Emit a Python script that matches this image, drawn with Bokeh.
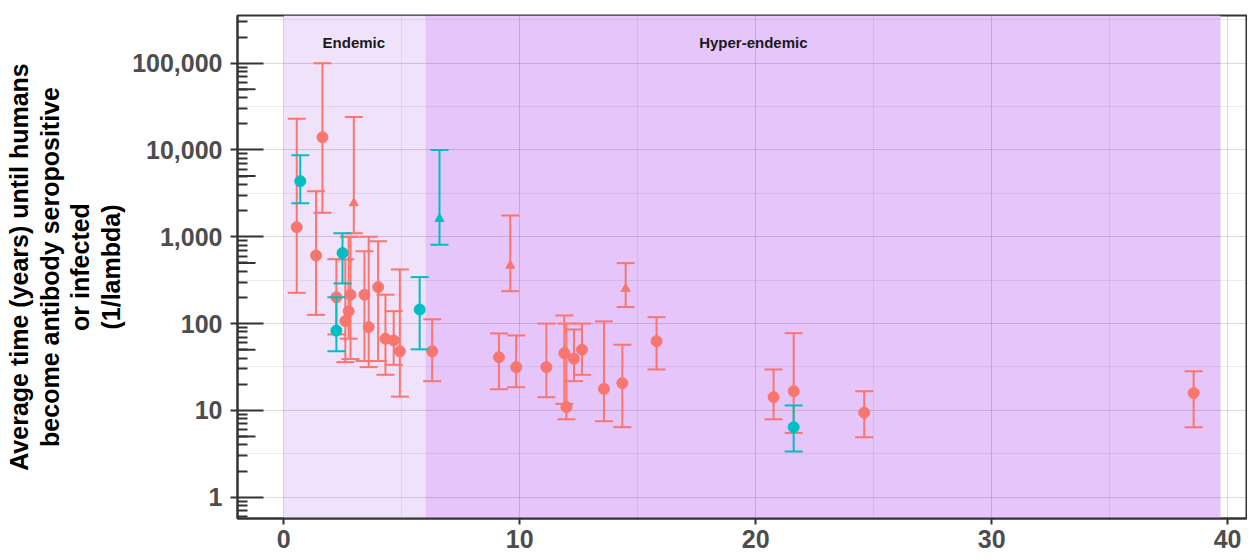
import math
from bokeh.plotting import figure
from bokeh.models import Range1d, FixedTicker, NumeralTickFormatter, ColumnDataSource
from bokeh.core.properties import value
from bokeh.embed import file_html
from bokeh.resources import INLINE

# ---------------- data ----------------
# group A (salmon) circles
a_circ_x  = [0.55, 1.37, 1.64, 2.23, 2.61, 2.75, 2.83, 3.42, 3.60, 4.00, 4.31, 4.66, 4.92,
             6.29, 9.12, 9.85, 11.13, 11.89, 11.98, 12.30, 12.64, 13.57, 14.35, 15.80,
             20.76, 21.61, 24.60, 38.56]
a_circ_y  = [1290, 609, 14000, 201, 107, 139, 215, 215, 91, 263, 67, 64, 48,
             48, 41, 31.5, 31.5, 45.6, 10.9, 39.3, 50, 17.7, 20.6, 62.7,
             14.2, 16.6, 9.4, 15.8]
a_circ_lo = [226, 126, 1890, 75, 36, 67, 39, 37, 31.5, 37, 25.7, 33.5, 14.4,
             21.7, 17.5, 18.5, 14.2, 11.9, 7.9, 21.7, 25.7, 7.5, 6.4, 29.6,
             7.9, 5.5, 4.9, 6.4]
a_circ_hi = [22900, 3350, 100000, 552, 550, 1000, 1000, 682, 1000, 889, 215, 139, 420,
             112, 77, 73, 100, 124, 100, 85.5, 100, 106, 57, 118.6,
             29.6, 77.5, 16.6, 28.3]
# group A (salmon) triangles
a_tri_x  = [2.97, 9.60, 14.49]
a_tri_y  = [2440, 466, 252]
a_tri_lo = [1100, 236, 155]
a_tri_hi = [23900, 1760, 497]
# group B (teal) circles
b_circ_x  = [0.70, 2.23, 2.49, 5.76, 21.61]
b_circ_y  = [4370, 83, 650, 145, 6.4]
b_circ_lo = [2440, 48, 290, 50.5, 3.36]
b_circ_hi = [8700, 201, 1100, 343, 11.4]
# group B (teal) triangles
b_tri_x  = [6.60]
b_tri_y  = [1610]
b_tri_lo = [810]
b_tri_hi = [10000]

# shaded zones
zone_names = ["Endemic", "Hyper-endemic"]
zone_start = [0, 6]
zone_end   = [6, 39.7]
zone_label_x = [2.97, 19.9]
zone_label_y = [171000, 171000]

x_major = [0, 10, 20, 30, 40]
x_minor = [5, 15, 25, 35]
y_major = [1, 10, 100, 1000, 10000, 100000]

SALMON = "#F8766D"
TEAL = "#00BFC4"
ZONE_COLORS = ["#F1E2FB", "#E6C5FA"]

X_START, X_END = -1.96, 40.8
Y_START, Y_END = 0.568, 354000
FRAME_W, FRAME_H = 1009, 503

p = figure(frame_width=FRAME_W, frame_height=FRAME_H,
           x_range=Range1d(X_START, X_END), y_range=Range1d(Y_START, Y_END),
           y_axis_type="log", output_backend="svg", toolbar_location=None,
           min_border_left=237, min_border_top=15, min_border_right=1, min_border_bottom=40,
           background_fill_color="white", border_fill_color="white")
p.outline_line_color = "#333333"
p.outline_line_width = 2

# zones
zsrc = ColumnDataSource(dict(left=zone_start, right=zone_end, color=ZONE_COLORS))
p.quad(left="left", right="right", bottom=Y_START, top=Y_END, fill_color="color",
       line_color=None, source=zsrc, level="image")

# grid
y_minor_grid = [10 ** (k + 0.5) for k in range(-1, 6)]
y_log_minor = [m * 10 ** k for k in range(-1, 6) for m in range(2, 10)]
p.xaxis.ticker = FixedTicker(ticks=x_major, minor_ticks=x_minor)
p.yaxis.ticker = FixedTicker(ticks=y_major, minor_ticks=y_log_minor)
p.ygrid.ticker = FixedTicker(ticks=y_major, minor_ticks=y_minor_grid)
for g in (p.xgrid, p.ygrid):
    g.grid_line_color = "black"
    g.grid_line_alpha = 0.14
    g.minor_grid_line_color = "black"
    g.minor_grid_line_alpha = 0.07

# axes
for ax in (p.xaxis, p.yaxis):
    ax.axis_line_color = "#333333"
    ax.axis_line_width = 2
    ax.major_tick_line_color = "#333333"
    ax.major_tick_line_width = 2
    ax.major_label_text_font = "Liberation Sans"
    ax.major_label_text_font_style = "bold"
    ax.major_label_text_color = "#4D4D4D"
    ax.major_label_text_font_size = "25px"

p.xaxis.minor_tick_line_color = None
p.xaxis.major_tick_in = 0
p.xaxis.major_tick_out = 6
p.xaxis.major_label_standoff = 5

p.yaxis.major_tick_in = 26
p.yaxis.major_tick_out = 7
p.yaxis.minor_tick_in = 10
p.yaxis.minor_tick_out = 0
p.yaxis.minor_tick_line_color = "#333333"
p.yaxis.minor_tick_line_width = 2
p.yaxis.major_label_standoff = 8
p.yaxis.formatter = NumeralTickFormatter(format="0,0")
p.yaxis.axis_label = ("Average time (years) until humans\nbecome antibody seropositive\n"
                      "or infected\n(1/lambda)")
p.yaxis.axis_label_text_font = "Liberation Sans"
p.yaxis.axis_label_text_font_style = "bold"
p.yaxis.axis_label_text_font_size = "25px"
p.yaxis.axis_label_text_color = "black"
p.yaxis.axis_label_text_line_height = 1.1
p.yaxis.axis_label_standoff = 4

# medium log ticks at 5 x 10^k (annotation_logticks style)
px_per_unit = FRAME_W / (X_END - X_START)
mid_y = [5 * 10 ** k for k in range(0, 5)]
p.segment(x0=[X_START] * len(mid_y), x1=[X_START + 18 / px_per_unit] * len(mid_y),
          y0=mid_y, y1=mid_y, line_color="#333333", line_width=2)

def draw(xs, ys, lo, hi, color, marker, size):
    src = ColumnDataSource(dict(x=xs, y=ys, lo=lo, hi=hi))
    p.segment(x0="x", x1="x", y0="lo", y1="hi", source=src, line_color=color, line_width=2)
    p.scatter(x="x", y="lo", source=src, marker="dash", size=18, line_color=color, line_width=2)
    p.scatter(x="x", y="hi", source=src, marker="dash", size=18, line_color=color, line_width=2)
    p.scatter(x="x", y="y", source=src, marker=marker, size=size,
              fill_color=color, line_color=color)

draw(a_circ_x, a_circ_y, a_circ_lo, a_circ_hi, SALMON, "circle", 11)
draw(a_tri_x, a_tri_y, a_tri_lo, a_tri_hi, SALMON, "triangle", 9)
draw(b_circ_x, b_circ_y, b_circ_lo, b_circ_hi, TEAL, "circle", 11)
draw(b_tri_x, b_tri_y, b_tri_lo, b_tri_hi, TEAL, "triangle", 9)

# zone labels
p.text(x=zone_label_x, y=zone_label_y, text=zone_names, text_align="center",
       text_baseline="middle", text_font=value("Liberation Sans"), text_font_style="bold",
       text_font_size="15px", text_color="#1a1a1a")

open("out.html", "w").write(file_html(p, INLINE))
